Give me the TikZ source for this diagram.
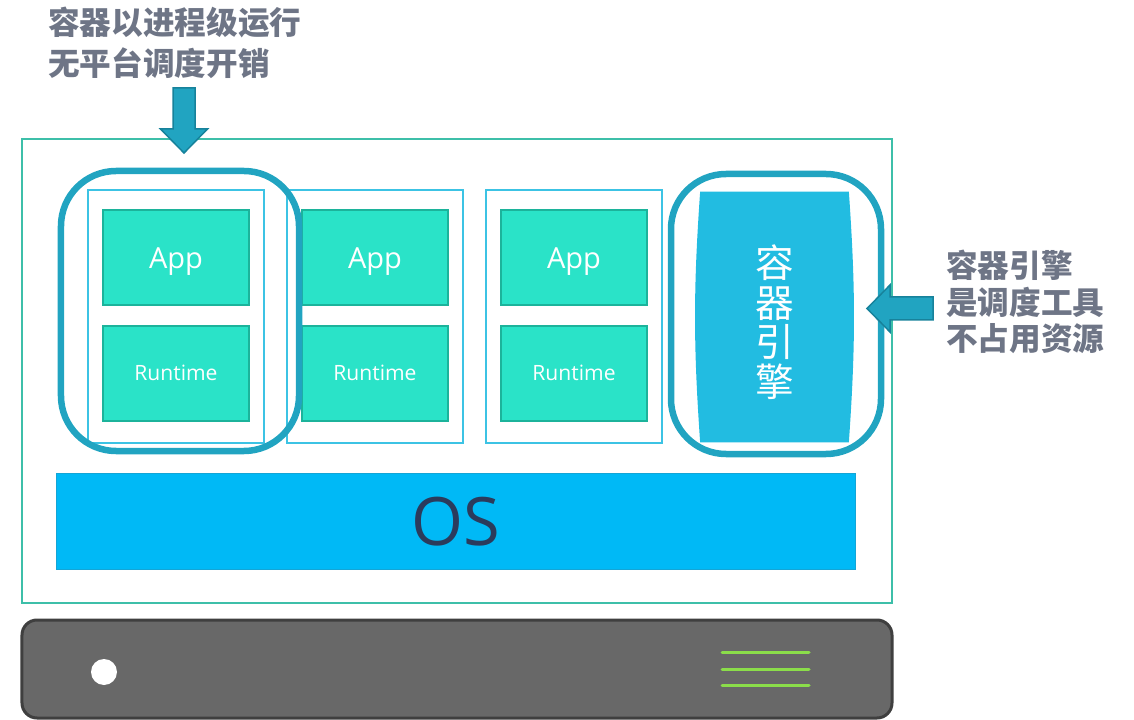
\documentclass[tikz,border=0pt]{standalone}
\usepackage{fontspec}
\setsansfont{Open Sans}
\newfontfamily\cjk{Noto Sans CJK SC}
\usepackage{tikz}
\usetikzlibrary{
	positioning
}

\definecolor{frameTeal}{HTML}{3DBFA9}
\definecolor{ctrBlue}{HTML}{3CC3E4}
\definecolor{layerFill}{HTML}{2AE3C8}
\definecolor{layerEdge}{HTML}{1CB39B}
\definecolor{ringBlue}{HTML}{21A4C1}
\definecolor{arrowEdge}{HTML}{17829B}
\definecolor{engFill}{HTML}{22BCE1}
\definecolor{osFill}{HTML}{00B9F6}
\definecolor{osEdge}{HTML}{14A5D6}
\definecolor{osText}{HTML}{2B3B5C}
\definecolor{noteGray}{HTML}{6E7586}
\definecolor{boxGray}{HTML}{686868}
\definecolor{boxEdge}{HTML}{3F3F3F}
\definecolor{ledGreen}{HTML}{8BDD4A}

\tikzset{
	frame/.style={draw=frameTeal,line width=0.4mm,minimum width=174mm,minimum height=92.8mm},
	ctr/.style={draw=ctrBlue,line width=0.3mm,minimum width=35.2mm,minimum height=50.6mm},
	layer/.style={draw=layerEdge,fill=layerFill,line width=0.4mm,minimum width=29.2mm,
		minimum height=19mm,text=white,inner sep=0pt,text depth=0pt},
	ring/.style={draw=ringBlue,line width=1.3mm,rounded corners=11mm},
	blockarrow/.style={fill=ringBlue,draw=arrowEdge,line width=0.3mm,line join=miter},
	osbar/.style={draw=osEdge,fill=osFill,line width=0.2mm,minimum width=159.6mm,
		minimum height=19mm,text=osText,font=\sffamily\fontsize{38}{40}\selectfont},
	server/.style={draw=boxEdge,fill=boxGray,line width=0.6mm,rounded corners=3mm,
		minimum width=174mm,minimum height=19.6mm},
	note/.style={text=noteGray,align=left,inner sep=0pt,font=\cjk\bfseries}
}

\begin{document}
\begin{tikzpicture}[x=0.2mm,y=-0.2mm]
	\useasboundingbox (0,0) rectangle (1134,720);

	% host box
	\node[frame] (host) at (457,371) {};

	% three containers
	\foreach \i/\x in {1/176,2/375,3/574}{
		\node[ctr] (ctr\i) at (\x,316.5) {};
		\node[layer,font=\sffamily\fontsize{16.5}{18}\selectfont] (app\i) at (\x,258) {App};
		\node[layer,font=\sffamily\fontsize{12}{14}\selectfont,below=3.6mm of app\i] (rt\i) {Runtime};
	}

	% engine
	\node[minimum width=29.6mm,minimum height=50mm] (eng) at (774.5,317) {};
	\fill[engFill] (eng.north west) to[bend right=4] (eng.south west)
		-- (eng.south east) to[bend right=4] (eng.north east) -- cycle;
	\node[text=white,align=center,inner sep=0pt,
		font=\cjk\fontsize{22}{22.5}\selectfont] (engtxt) at ([yshift=-1mm]eng.center) {容\\器\\引\\擎};

	% os layer
	\node[osbar] (os) at (456,521.5) {OS};

	% highlights
	\node[ring,minimum width=47.6mm,minimum height=56mm] (ring1) at (180,311) {};
	\node[ring,minimum width=42mm,minimum height=56mm] (ring2) at (776,314) {};

	% notes and arrows
	\node[note,anchor=north west,font=\cjk\bfseries\fontsize{18}{23}\selectfont] (topnote) at (48,7)
		{容器以进程级运行\\无平台调度开销};
	\node[note,anchor=north west,font=\cjk\bfseries\fontsize{18}{20.7}\selectfont] (sidenote) at (946,250)
		{容器引擎\\是调度工具\\不占用资源};
	\coordinate (dnTop) at (184,88);
	\draw[blockarrow] (dnTop) ++(-11,0) -- ++(22,0) -- ++(0,41) -- ++(12.5,0)
		-- ++(-23.5,24) -- ++(-23.5,-24) -- ++(12.5,0) -- cycle;
	\coordinate (ltTail) at (933,308.5);
	\draw[blockarrow] (ltTail) ++(0,-11.5) -- ++(0,23) -- ++(-43,0) -- ++(0,12)
		-- ++(-23,-23.5) -- ++(23,-23.5) -- ++(0,12) -- cycle;

	% hardware
	\node[server] (srv) at (457,669) {};
	\node[circle,fill=white,minimum size=5.2mm,inner sep=0pt] (led) at (104,672) {};
	\foreach \y in {652,669,685}
		\draw[ledGreen,line width=0.6mm,line cap=round] (722,\y) -- (809,\y);
\end{tikzpicture}
\end{document}
